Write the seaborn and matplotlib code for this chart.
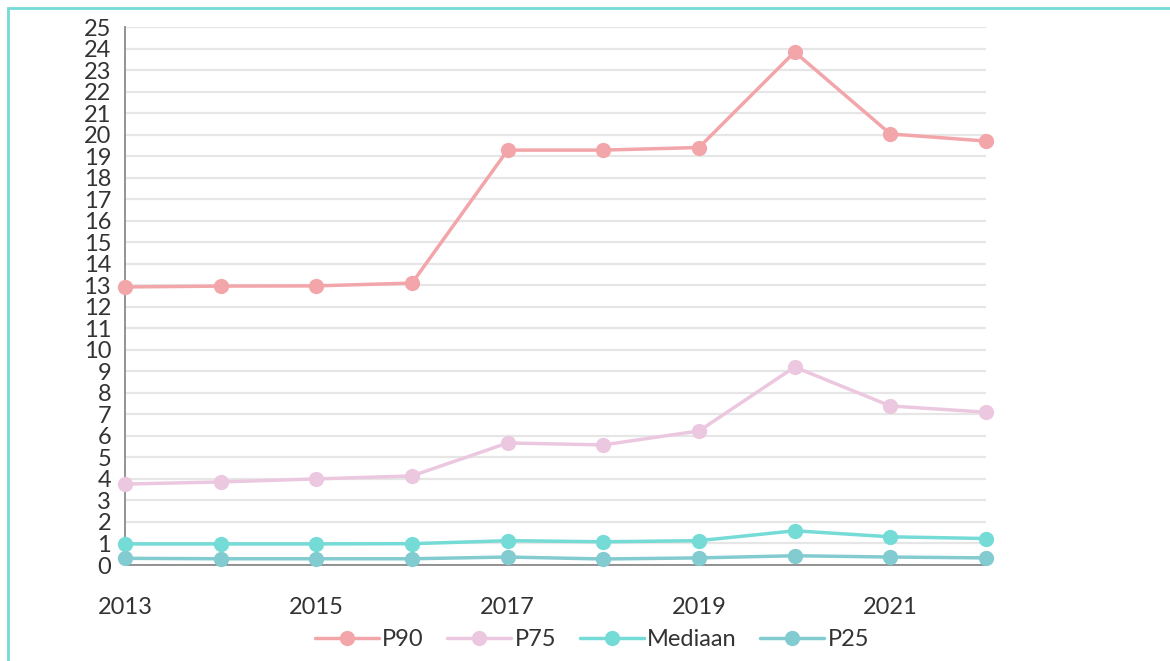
import numpy as np
import pandas as pd
import matplotlib
matplotlib.use("Agg")
import matplotlib.pyplot as plt
import seaborn as sns
from matplotlib.patches import Rectangle
from matplotlib.lines import Line2D

years = [2013, 2014, 2015, 2016, 2017, 2018, 2019, 2020, 2021, 2022]
p90 = [12.92, 12.96, 12.97, 13.1, 19.28, 19.28, 19.4, 23.84, 20.03, 19.7]
p75 = [3.76, 3.86, 4.0, 4.14, 5.67, 5.58, 6.23, 9.2, 7.39, 7.1]
mediaan = [0.98, 0.98, 0.98, 0.99, 1.13, 1.08, 1.13, 1.59, 1.31, 1.23]
p25 = [0.31, 0.29, 0.29, 0.29, 0.37, 0.28, 0.33, 0.43, 0.37, 0.33]
series_names = ["P90", "P75", "Mediaan", "P25"]
colors = ["#f3a6aa", "#ecc8e0", "#74dbd6", "#82cbd0"]
y_ticks = list(range(0, 26))
x_ticks = [2013, 2015, 2017, 2019, 2021]

df = pd.DataFrame({
    "year": years * 4,
    "value": p90 + p75 + mediaan + p25,
    "series": sum([[n] * len(years) for n in series_names], []),
})

sns.set_style("white")
plt.rcParams["font.family"] = ["Lato", "DejaVu Sans"]

fig = plt.figure(figsize=(11.7, 6.61), dpi=100)
ax = fig.add_axes([125 / 1170, 1 - 565 / 661, (986 - 125) / 1170, (565 - 27) / 661])

sns.lineplot(data=df, x="year", y="value", hue="series", hue_order=series_names,
             palette=colors, marker="o", markersize=11, markeredgewidth=0,
             linewidth=2.5, ax=ax, legend=False, zorder=3)
for ln in ax.lines:
    ln.set_clip_on(False)

ax.set_xlim(2013, 2022)
ax.set_ylim(0, 25)
ax.set_yticks(y_ticks)
ax.set_xticks(x_ticks)
ax.set_xticklabels([str(x) for x in x_ticks])
ax.set_xlabel("")
ax.set_ylabel("")
ax.yaxis.grid(True, color="#e6e6e6", linewidth=1.6, zorder=0)
ax.set_axisbelow(True)
for s in ["top", "right"]:
    ax.spines[s].set_visible(False)
for s in ["left", "bottom"]:
    ax.spines[s].set_color("#8a8a8a")
    ax.spines[s].set_linewidth(1.3)
ax.tick_params(axis="both", colors="#8a8a8a", length=8, width=1.3, labelcolor="#333333",
               labelsize=17)
ax.tick_params(axis="x", pad=15)
ax.tick_params(axis="y", pad=2)

handles = [Line2D([0], [0], color=c, linewidth=2.5, marker="o", markersize=11,
                  markeredgewidth=0) for c in colors]
fig.legend(handles, series_names, loc="center", bbox_to_anchor=(0.506, 1 - 640 / 661),
           ncol=4, frameon=False, fontsize=17, handlelength=2.7, handletextpad=0.15,
           columnspacing=1.0, labelcolor="#333333")

fig.patches.append(Rectangle((8 / 1170, -0.1), 1.2, 1 - 8 / 661 + 0.1, transform=fig.transFigure,
                             fill=False, edgecolor="#74dbd6", linewidth=2, zorder=10))

fig.savefig("out.png", dpi=100)
